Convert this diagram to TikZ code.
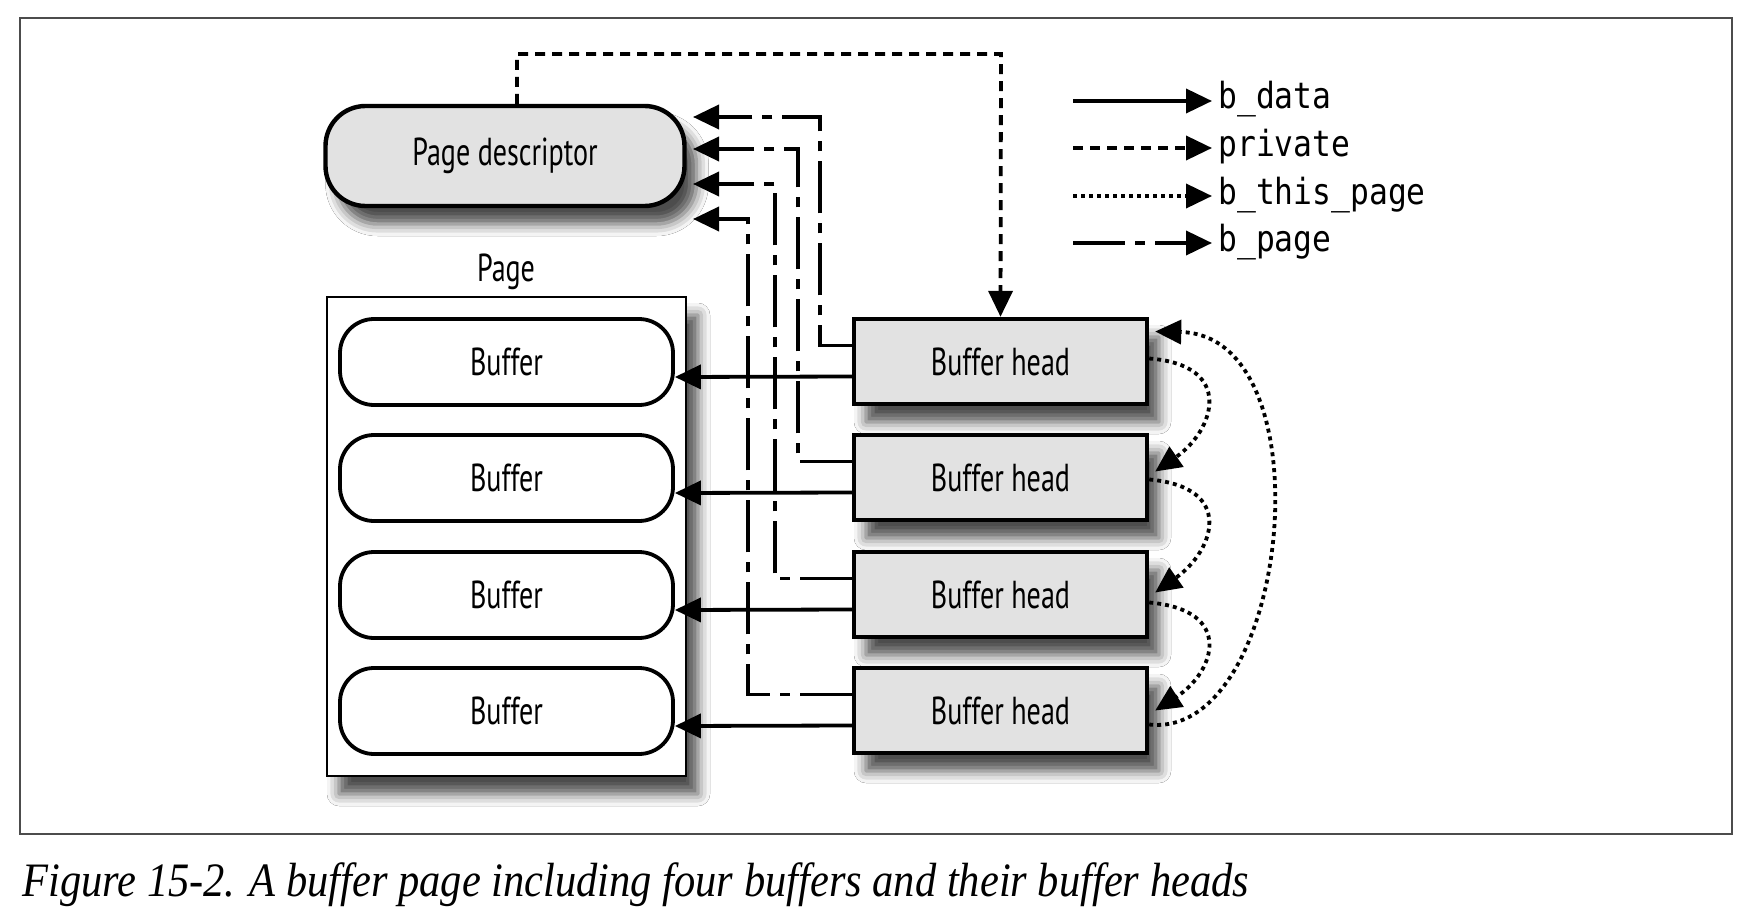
\documentclass[tikz,border=0pt]{standalone}
\usepackage{fontspec}
\setmainfont{Liberation Serif}
\newfontfamily\boxfont[FakeStretch=0.72]{PT Sans}
\newfontfamily\legfont[FakeStretch=0.87]{DejaVu Sans Mono}
\newfontfamily\capfont[FakeStretch=0.885]{Liberation Serif}
\usetikzlibrary{arrows.meta,shadows.blur}
\definecolor{boxgray}{HTML}{E2E2E2}
\begin{document}
\begin{tikzpicture}[x=0.5pt,y=-0.5pt,
  tip/.style={-{Triangle[length=13pt,width=12pt]}},
  conn/.style={line width=1.9pt, tip},
  bdata/.style={conn},
  privarrow/.style={conn, dash pattern=on 5pt off 3.5pt},
  thispage/.style={conn, dash pattern=on 2pt off 2pt},
  bpage/.style={conn, dash pattern=on 26pt off 5pt on 5pt off 5pt},
  shad/.style={blur shadow={shadow xshift=6pt, shadow yshift=-9pt, shadow blur radius=6pt, shadow opacity=70}},
  bfont/.style={font=\boxfont\fontsize{19.5}{22}\selectfont},
  headbox/.style={draw, line width=2.2pt, fill=boxgray, minimum width=146.5pt, minimum height=42.5pt, inner sep=0pt, bfont, shad},
  bufbox/.style={draw, line width=1.9pt, fill=white, rounded corners=17pt, minimum width=166.5pt, minimum height=43pt, inner sep=0pt, bfont},
  pdbox/.style={draw, line width=2.2pt, fill=boxgray, rounded corners=20pt, minimum width=179.5pt, minimum height=50pt, inner sep=0pt, bfont, shad},
  pagebox/.style={draw, line width=0.8pt, fill=white, minimum width=179.5pt, minimum height=239.5pt, inner sep=0pt, shad},
  leglabel/.style={anchor=west, inner sep=3pt, text height=12pt, text depth=4pt, font=\legfont\fontsize{18}{20}\selectfont}
]
\useasboundingbox (0,0) rectangle (1750,920);
\fill[white] (0,0) rectangle (1750,920);
\draw[line width=0.8pt, draw=black!70] (20,18) rectangle (1732,834);

% nodes
\node[pdbox] (pd) at (505,156) {Page descriptor};
\node[bfont, anchor=base, inner sep=0pt] (pagelbl) at (506,281) {Page};
\node[pagebox] (page) at (506.5,536.5) {};
\node[bufbox] (buf1) at (506.5,362) {Buffer};
\node[bufbox] (buf2) at (506.5,478) {Buffer};
\node[bufbox] (buf3) at (506.5,595) {Buffer};
\node[bufbox] (buf4) at (506.5,711) {Buffer};
\node[headbox] (bh1) at (1000.5,361.5) {Buffer head};
\node[headbox] (bh2) at (1000.5,477.5) {Buffer head};
\node[headbox] (bh3) at (1000.5,594.5) {Buffer head};
\node[headbox] (bh4) at (1000.5,710.5) {Buffer head};

% b_data
\foreach \i in {1,...,4}{
  \draw[bdata] ([yshift=-7.5pt]bh\i.west) -- ([yshift=-7.5pt]buf\i.east);
}

% b_page
\coordinate (c1) at (820,117); \coordinate (t1) at (693,117);
\coordinate (c2) at (798,149); \coordinate (t2) at (693,149);
\coordinate (c3) at (775,184); \coordinate (t3) at (693,184);
\coordinate (c4) at (748,219); \coordinate (t4) at (693,219);
\foreach \i in {1,...,4}{
  \draw[bpage] ([yshift=8pt]bh\i.west) -| (c\i) -- (t\i);
}

% private
\coordinate (pc) at (1001,54);
\draw[privarrow] ([xshift=6pt]pd.north) |- (pc) -- (bh1.north);

% b_this_page
\draw[thispage] ([yshift=1.5pt]bh1.east) .. controls (1235,365) and (1215,430) .. ([xshift=3pt,yshift=3pt]bh2.east);
\draw[thispage] ([yshift=-1pt]bh2.east) .. controls (1235,487) and (1215,550) .. ([xshift=3pt,yshift=1pt]bh3.east);
\draw[thispage] ([yshift=-4pt]bh3.east) .. controls (1235,610) and (1215,672) .. ([xshift=3pt]bh4.east);
\draw[thispage] ([yshift=-7pt]bh4.east) .. controls (1290,740) and (1330,335) .. ([xshift=3pt,yshift=15pt]bh1.east);

% legend
\coordinate (ls1) at (1073,101);
\coordinate (ls2) at (1073,148);
\coordinate (ls3) at (1073,196);
\coordinate (ls4) at (1073,243);
\node[leglabel] (lg1) at (1212,101) {b\_data};
\node[leglabel] (lg2) at (1212,148) {private};
\node[leglabel] (lg3) at (1212,196) {b\_this\_page};
\node[leglabel] (lg4) at (1212,243) {b\_page};
\draw[bdata] (ls1) -- (lg1.west);
\draw[privarrow] (ls2) -- (lg2.west);
\draw[thispage] (ls3) -- (lg3.west);
\draw[bpage] (ls4) -- (lg4.west);

% caption
\node[anchor=base west, inner sep=0pt, font=\capfont\itshape\fontsize{24}{26}\selectfont] (cap) at (22,896) {Figure 15-2. A buffer page including four buffers and their buffer heads};
\end{tikzpicture}
\end{document}
